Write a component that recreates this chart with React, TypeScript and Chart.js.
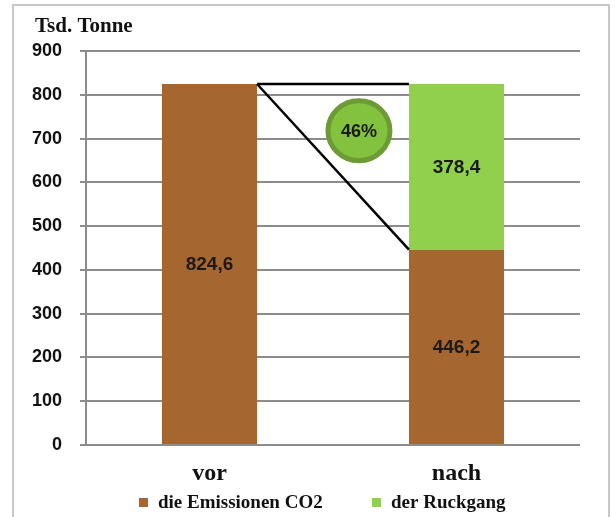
import React, { useEffect, useRef } from "react";
import { Chart, registerables } from "chart.js";

Chart.register(...registerables);

const categories = ["vor", "nach"];
const emissions = [824.6, 446.2];
const decline = [0, 378.4];
const seriesNames = ["die Emissionen CO2", "der Ruckgang"];
const unitLabel = "Tsd. Tonne";
const yMin = 0;
const yMax = 900;
const yStep = 100;

const BROWN = "#A6662F";
const GREEN = "#90D04C";
const GRID = "#8c8c8c";

const fmt = (v: number) => v.toFixed(1).replace(".", ",");

export default function App() {
  const ref = useRef<HTMLCanvasElement | null>(null);

  useEffect(() => {
    if (!ref.current) return;

    const overlay = {
      id: "overlay",
      afterDatasetsDraw(chart: any) {
        const ctx = chart.ctx as CanvasRenderingContext2D;
        const m0 = chart.getDatasetMeta(0).data;
        const m1 = chart.getDatasetMeta(1).data;
        const yScale = chart.scales.y;

        // triangle lines
        const b0 = m0[0] as any;
        const b1 = m0[1] as any;
        const g1 = m1[1] as any;
        const x0 = b0.x + b0.width / 2;
        const y0 = b0.y;
        const x1 = b1.x - b1.width / 2;
        ctx.save();
        ctx.strokeStyle = "#000";
        ctx.lineWidth = 2.5;
        ctx.beginPath();
        ctx.moveTo(x0, y0);
        ctx.lineTo(x1, g1.y);
        ctx.moveTo(x0, y0);
        ctx.lineTo(x1, b1.y);
        ctx.stroke();

        // percentage badge
        const pct = Math.round((decline[1] / emissions[0]) * 100);
        const cx = x1 - 50;
        const cy = yScale.getPixelForValue(718);
        ctx.beginPath();
        ctx.ellipse(cx, cy, 31, 30, 0, 0, Math.PI * 2);
        ctx.fillStyle = "#82c23e";
        ctx.fill();
        ctx.lineWidth = 5;
        ctx.strokeStyle = "#6e9a36";
        ctx.stroke();
        ctx.fillStyle = "#1a1a1a";
        ctx.font = "bold 18px 'Liberation Sans', Arial, sans-serif";
        ctx.textAlign = "center";
        ctx.textBaseline = "middle";
        ctx.fillText(pct + "%", cx, cy + 1);

        // data labels
        ctx.font = "bold 19px 'Liberation Sans', Arial, sans-serif";
        const all = [emissions, decline];
        all.forEach((arr, di) => {
          const meta = chart.getDatasetMeta(di).data;
          arr.forEach((v, i) => {
            if (!v) return;
            const bar = meta[i] as any;
            ctx.fillText(fmt(v), bar.x, (bar.y + bar.base) / 2 + 1);
          });
        });
        ctx.restore();
      },
      afterDraw(chart: any) {
        const ctx = chart.ctx as CanvasRenderingContext2D;
        ctx.save();
        // frame
        ctx.strokeStyle = "#c8c8c8";
        ctx.lineWidth = 2;
        ctx.strokeRect(13, 5, 596, 530);

        // unit label
        ctx.fillStyle = "#111";
        ctx.font = "bold 21px 'Liberation Serif', 'Times New Roman', serif";
        ctx.textAlign = "left";
        ctx.textBaseline = "alphabetic";
        ctx.fillText(unitLabel, 35, 32);

        // legend
        ctx.font = "bold 19px 'Liberation Serif', 'Times New Roman', serif";
        const legendX = [139, 372];
        const colors = [BROWN, GREEN];
        seriesNames.forEach((name, i) => {
          ctx.fillStyle = colors[i];
          ctx.fillRect(legendX[i], 498, 9, 9);
          ctx.fillStyle = "#111";
          ctx.fillText(name, legendX[i] + 19, 508);
        });
        ctx.restore();
      },
    };

    const chart = new Chart(ref.current, {
      type: "bar",
      data: {
        labels: categories,
        datasets: [
          {
            label: seriesNames[0],
            data: emissions,
            backgroundColor: BROWN,
            barPercentage: 0.385,
            categoryPercentage: 1,
          },
          {
            label: seriesNames[1],
            data: decline.map((v) => (v ? v : null)),
            backgroundColor: GREEN,
            barPercentage: 0.385,
            categoryPercentage: 1,
          },
        ],
      },
      options: {
        responsive: false,
        animation: false,
        layout: { padding: { left: 0, right: 35, top: 51, bottom: 0 } },
        plugins: {
          legend: { display: false },
          tooltip: { enabled: false },
          title: { display: false },
        },
        scales: {
          x: {
            stacked: true,
            grid: { display: false, drawTicks: false },
            border: { display: false },
            ticks: {
              color: "#111",
              padding: 14,
              font: { family: "'Liberation Serif', 'Times New Roman', serif", size: 24, weight: "bold" },
            },
            afterFit: (s: any) => {
              s.height = 72;
            },
          },
          y: {
            stacked: true,
            min: yMin,
            max: yMax,
            ticks: {
              stepSize: yStep,
              color: "#111",
              padding: 18,
              font: { family: "'Liberation Sans', Arial, sans-serif", size: 18, weight: "bold" },
            },
            grid: { color: GRID, lineWidth: 2, tickLength: 6, drawTicks: true },
            border: { display: true, color: GRID, width: 2 },
            afterFit: (s: any) => {
              s.width = 86;
            },
          },
        },
      },
      plugins: [overlay],
    });

    return () => chart.destroy();
  }, []);

  return (
    <div style={{ position: "absolute", left: 0, top: 0, width: 615, height: 517, background: "#fff" }}>
      <canvas ref={ref} width={615} height={517} style={{ display: "block" }} />
    </div>
  );
}
